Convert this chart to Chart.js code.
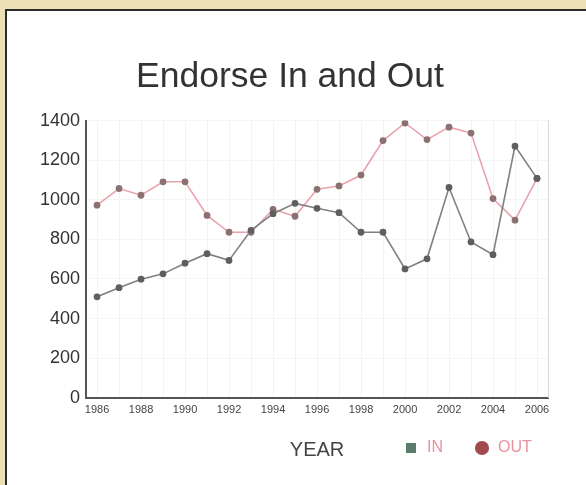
<!DOCTYPE html>
<html><head><meta charset="utf-8">
<script src="https://cdn.jsdelivr.net/npm/chart.js@4"></script>
<style>
html,body{margin:0;padding:0;background:#ebe0b6;width:586px;height:485px;overflow:hidden}
#panel{position:absolute;left:5px;top:9px;width:581px;height:476px;background:#fff;border-left:2px solid #2b2b2b;border-top:2px solid #2b2b2b;box-sizing:border-box}
#wrap{position:absolute;left:0;top:0;width:579px;height:474px}
</style></head><body>
<div id="panel"><div id="wrap"><canvas id="c"></canvas></div></div>
<script>
const chartTitle = 'Endorse In and Out';
const xAxisTitle = 'YEAR';
const years = ['1986','1987','1988','1989','1990','1991','1992','1993','1994','1995','1996','1997','1998','1999','2000','2001','2002','2003','2004','2005','2006'];
const xTickLabels = ['1986','1988','1990','1992','1994','1996','1998','2000','2002','2004','2006'];
const inValues  = [510, 556, 599, 626, 680, 728, 694, 846, 930, 982, 957, 935, 836, 836, 651, 702, 1062, 787, 723, 1271, 1108];
const outValues = [973, 1057, 1023, 1091, 1091, 921, 836, 836, 952, 917, 1053, 1070, 1125, 1299, 1388, 1304, 1367, 1337, 1006, 897, 1108];
const yTickValues = [0, 200, 400, 600, 800, 1000, 1200, 1400];

const placePlugin = {
  id: 'place',
  afterLayout(chart) {
    const lg = chart.legend;
    if (lg) {
      lg.left = 365; lg.right = 579; lg.top = 398; lg.bottom = 474;
      lg.width = lg.right - lg.left; lg.height = lg.bottom - lg.top;
    }
    const t = chart.titleBlock;
    if (t) { t.left -= 1; t.right -= 1; }
  }
};

new Chart(document.getElementById('c'), {
  type: 'line',
  data: {
    labels: years,
    datasets: [
      { label: 'IN', data: inValues, borderColor: '#808080', borderWidth: 1.6,
        pointRadius: 2.6, pointBackgroundColor: '#5f5f5f', pointBorderColor: '#5f5f5f', tension: 0 },
      { label: 'OUT', data: outValues, borderColor: '#eaa3ae', borderWidth: 1.6,
        pointRadius: 2.6, pointBackgroundColor: '#8c7072', pointBorderColor: '#8c7072', tension: 0 }
    ]
  },
  options: {
    responsive: true,
    maintainAspectRatio: false,
    animation: false,
    layout: { padding: { left: 27, right: 38, top: 0, bottom: 22 } },
    plugins: {
      title: { display: true, text: chartTitle, color: '#333',
        font: { family: 'Liberation Sans, Arial, sans-serif', size: 35.5, weight: 'normal' },
        padding: { top: 45, bottom: 22 } },
      legend: {
        display: true, position: 'bottom', align: 'start', maxHeight: 1,
        labels: {
          usePointStyle: true, boxWidth: 17, boxHeight: 10, padding: 31,
          color: '#e891a0',
          font: { family: 'Liberation Sans, Arial, sans-serif', size: 16 },
          generateLabels() {
            return [
              { text: 'IN', fillStyle: '#5b7d6c', strokeStyle: '#5b7d6c', lineWidth: 0, pointStyle: 'rect', fontColor: '#e891a0', hidden: false, datasetIndex: 0 },
              { text: 'OUT', fillStyle: '#a34a4f', strokeStyle: '#a34a4f', lineWidth: 0, pointStyle: 'circle', fontColor: '#e891a0', hidden: false, datasetIndex: 1 }
            ];
          }
        }
      },
      tooltip: { enabled: false }
    },
    scales: {
      x: {
        type: 'category', offset: true,
        grid: { color: '#f3f3f3', drawTicks: false, offset: false },
        border: { color: '#555', width: 2 },
        ticks: {
          autoSkip: false, maxRotation: 0, padding: 6, color: '#444',
          font: { family: 'Liberation Sans Narrow, Liberation Sans, Arial, sans-serif', size: 11 },
          callback(v, i) { const l = years[i]; return xTickLabels.includes(l) ? l : ''; }
        },
        title: { display: true, text: xAxisTitle, color: '#444',
          font: { family: 'Liberation Sans, Arial, sans-serif', size: 20 },
          padding: { top: 15, bottom: 0 } }
      },
      y: {
        min: 0, max: 1400,
        afterBuildTicks(s) { s.ticks = yTickValues.map(v => ({ value: v })); },
        grid: { color: '#f5f5f5', drawTicks: false },
        border: { color: '#555', width: 2 },
        ticks: { padding: 6, color: '#333',
          font: { family: 'Liberation Sans, Arial, sans-serif', size: 18 },
          callback(v) { return String(v); } }
      },
      y2: {
        position: 'right', min: 0, max: 1400,
        grid: { display: false, drawTicks: false },
        border: { color: '#d8d8d8', width: 1 },
        ticks: { display: false }
      }
    }
  },
  plugins: [placePlugin]
});
</script>
</body></html>
